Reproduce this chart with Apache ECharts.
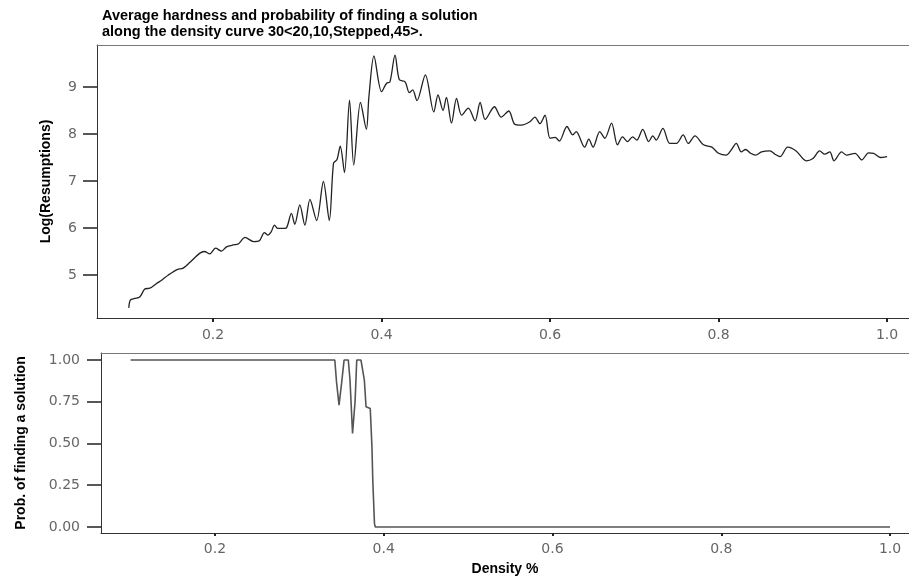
<!DOCTYPE html>
<html>
<head>
<meta charset="utf-8">
<script src="https://cdn.jsdelivr.net/npm/echarts@6/dist/echarts.min.js"></script>
<style>
html,body{margin:0;padding:0;background:#fff;overflow:hidden;}
#c{width:909px;height:577px;}
</style>
</head>
<body>
<div id="c"></div>
<script>
// Top panel: density vs Log(Resumptions)
const hardX = [0.100,0.102,0.107,0.113,0.119,0.125,0.133,0.139,0.147,0.158,0.164,0.172,0.184,0.190,0.196,0.203,0.210,0.216,0.224,0.230,0.238,0.248,0.255,0.261,0.265,0.269,0.273,0.277,0.283,0.287,0.293,0.297,0.303,0.309,0.315,0.323,0.331,0.338,0.343,0.347,0.351,0.356,0.362,0.367,0.375,0.382,0.385,0.391,0.400,0.406,0.410,0.416,0.421,0.428,0.433,0.437,0.442,0.452,0.462,0.467,0.473,0.477,0.483,0.489,0.495,0.503,0.511,0.517,0.523,0.534,0.542,0.551,0.558,0.566,0.576,0.582,0.588,0.594,0.600,0.606,0.611,0.620,0.627,0.631,0.641,0.646,0.651,0.659,0.665,0.673,0.680,0.686,0.692,0.698,0.703,0.710,0.717,0.722,0.726,0.734,0.742,0.750,0.758,0.764,0.772,0.782,0.792,0.800,0.809,0.815,0.821,0.827,0.832,0.838,0.844,0.851,0.861,0.867,0.873,0.882,0.892,0.904,0.912,0.920,0.926,0.932,0.937,0.946,0.952,0.962,0.970,0.978,0.984,0.992,1.000];
const hardY = [4.30,4.47,4.50,4.53,4.70,4.72,4.82,4.89,5.00,5.12,5.14,5.26,5.46,5.50,5.45,5.57,5.51,5.60,5.64,5.66,5.80,5.71,5.73,5.90,5.85,5.92,6.06,5.99,5.99,6.00,6.31,6.08,6.49,6.06,6.61,6.16,6.99,6.16,7.38,7.45,7.74,7.18,8.72,7.34,8.67,8.10,8.79,9.66,8.90,9.08,9.11,9.68,9.16,9.11,8.88,8.94,8.71,9.26,8.47,8.83,8.50,8.78,8.23,8.76,8.40,8.55,8.28,8.67,8.31,8.58,8.36,8.49,8.21,8.19,8.26,8.36,8.22,8.40,7.91,7.93,7.85,8.16,7.98,8.05,7.72,7.89,7.72,8.05,7.91,8.23,7.77,7.94,7.84,7.94,7.87,8.10,7.84,7.96,7.87,8.12,7.80,7.80,7.98,7.80,7.96,7.77,7.72,7.59,7.55,7.66,7.80,7.62,7.67,7.59,7.55,7.62,7.64,7.57,7.52,7.72,7.64,7.43,7.48,7.64,7.57,7.62,7.43,7.62,7.55,7.59,7.45,7.60,7.59,7.50,7.52];

// Bottom panel: density vs probability of finding a solution
const probX = [0.100,0.342,0.344,0.347,0.350,0.353,0.358,0.360,0.363,0.366,0.368,0.373,0.377,0.379,0.384,0.386,0.387,0.389,0.390,1.000];
const probY = [1.00,1.00,0.87,0.73,0.86,1.00,1.00,0.88,0.56,0.75,1.00,1.00,0.88,0.72,0.71,0.48,0.28,0.02,0.00,0.00];

// Tick labels
const xTicks = [0.2,0.4,0.6,0.8,1.0];
const hardTicks = [5,6,7,8,9];
const probTicks = [0,0.25,0.5,0.75,1.0];

const titleText = 'Average hardness and probability of finding a solution\nalong the density curve 30<20,10,Stepped,45>.';
const hardName = 'Log(Resumptions)';
const probName = 'Prob. of finding a solution';
const xName = 'Density %';

const labelStyle = {fontFamily:'DejaVu Sans', fontSize:14, color:'#666'};
const nameStyle = {fontFamily:'Liberation Sans', fontWeight:'bold', fontSize:14, color:'#000'};
const axisLine = {show:true, onZero:false, lineStyle:{color:'#333', width:1}};
const topLine = {show:true, onZero:false, lineStyle:{color:'#777', width:1}};

const topRange = [0.0623, 1.026];
const botRange = [0.0649, 1.0225];

const chart = echarts.init(document.getElementById('c'), null, {renderer:'canvas'});
chart.setOption({
  animation:false,
  backgroundColor:'#fff',
  title:{
    text:titleText, left:97, top:3,
    textStyle:{fontFamily:'Liberation Sans', fontWeight:'bold', fontSize:14.5, lineHeight:16, color:'#000'}
  },
  grid:[
    {left:97, top:45, right:0, height:273, show:false, containLabel:false},
    {left:101, top:353, right:0, height:180, show:false, containLabel:false}
  ],
  xAxis:[
    {type:'value', gridIndex:0, min:topRange[0], max:topRange[1],
     axisLine:axisLine, splitLine:{show:false},
     axisTick:{show:true, inside:false, length:4, customValues:xTicks, lineStyle:{color:'#222', width:2}},
     axisLabel:Object.assign({margin:10, customValues:xTicks, formatter:v=>v.toFixed(1)}, labelStyle)},
    {type:'value', gridIndex:1, min:botRange[0], max:botRange[1],
     name:xName, nameLocation:'middle', nameGap:29, nameTextStyle:nameStyle,
     axisLine:axisLine, splitLine:{show:false},
     axisTick:{show:true, inside:false, length:3, customValues:xTicks, lineStyle:{color:'#222', width:2}},
     axisLabel:Object.assign({margin:9, customValues:xTicks, formatter:v=>v.toFixed(1)}, labelStyle)},
    {type:'value', gridIndex:0, position:'top', min:topRange[0], max:topRange[1],
     axisLine:topLine, axisTick:{show:false}, axisLabel:{show:false}, splitLine:{show:false}},
    {type:'value', gridIndex:1, position:'top', min:botRange[0], max:botRange[1],
     axisLine:topLine, axisTick:{show:false}, axisLabel:{show:false}, splitLine:{show:false}}
  ],
  yAxis:[
    {type:'value', gridIndex:0, min:4.085, max:9.894,
     name:hardName, nameLocation:'middle', nameGap:44, nameRotate:90, nameTextStyle:nameStyle,
     axisLine:axisLine, splitLine:{show:false},
     axisTick:{show:true, inside:false, length:14, customValues:hardTicks, lineStyle:{color:'#222', width:1.5}},
     axisLabel:Object.assign({margin:20, customValues:hardTicks, formatter:v=>String(v)}, labelStyle)},
    {type:'value', gridIndex:1, min:-0.036, max:1.042,
     name:probName, nameLocation:'middle', nameGap:73, nameRotate:90, nameTextStyle:nameStyle,
     axisLine:axisLine, splitLine:{show:false},
     axisTick:{show:true, inside:false, length:14, customValues:probTicks, lineStyle:{color:'#222', width:1.5}},
     axisLabel:Object.assign({margin:21, customValues:probTicks, formatter:v=>v.toFixed(2)}, labelStyle)}
  ],
  series:[
    {type:'line', xAxisIndex:0, yAxisIndex:0, data:hardX.map((x,i)=>[x,hardY[i]]),
     showSymbol:false, smooth:0.3, lineStyle:{color:'#222', width:1.3}},
    {type:'line', xAxisIndex:1, yAxisIndex:1, data:probX.map((x,i)=>[x,probY[i]]),
     showSymbol:false, smooth:false, lineStyle:{color:'#555', width:1.6}}
  ]
});
</script>
</body>
</html>
